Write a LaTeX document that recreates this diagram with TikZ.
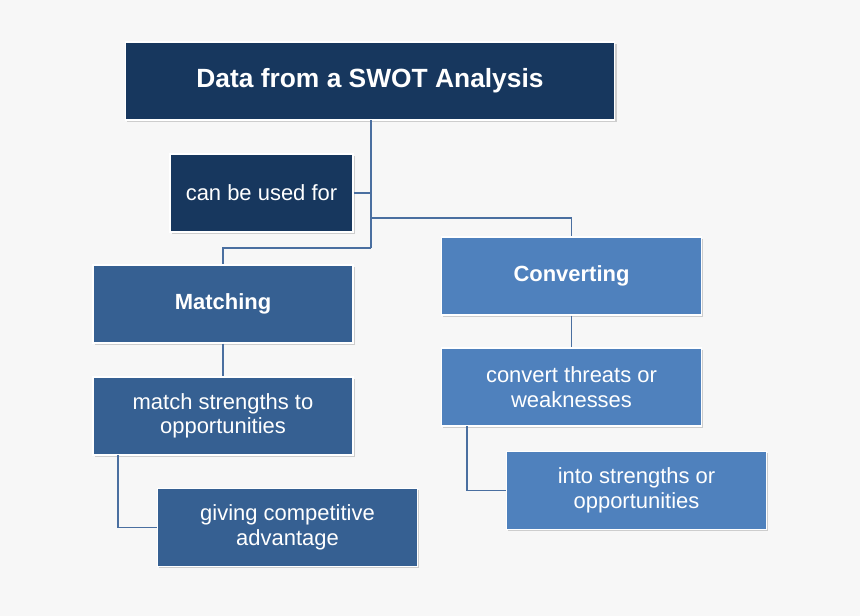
\documentclass[tikz,border=0pt]{standalone}
\usepackage{fontspec}
\setmainfont{Liberation Sans}
\usetikzlibrary{shadows}
\definecolor{navy}{HTML}{17375E}
\definecolor{midblue}{HTML}{366092}
\definecolor{lightblue}{HTML}{4F81BD}
\definecolor{linkblue}{HTML}{4A6FA0}
\definecolor{backgray}{HTML}{F7F7F7}
\tikzset{
  box/.style={draw=white, line width=0.6pt, text=white, align=center, inner sep=2pt,
    font=\fontsize{12.5}{14}\selectfont,
    drop shadow={shadow xshift=1pt, shadow yshift=-1pt, opacity=0.35}},
  link/.style={draw=linkblue, line width=0.7pt}
}
\begin{document}
\begin{tikzpicture}[x=0.02cm, y=-0.02cm]
  \fill[backgray] (0,0) rectangle (860,616);
  \useasboundingbox (0,0) rectangle (860,616);

  % Kopf
  \node[box, fill=navy, minimum width=9.8cm, minimum height=1.56cm,
    font=\fontsize{15}{18}\selectfont\bfseries] (title) at (370,81) {Data from a SWOT Analysis};
  \node[box, fill=navy, minimum width=3.66cm, minimum height=1.56cm] (used) at (261.5,193) {can be used for};

  % Matching-Zweig
  \node[box, fill=midblue, minimum width=5.2cm, minimum height=1.56cm, font=\fontsize{12.5}{14}\selectfont\bfseries] (match) at (223,304) {Matching};
  \node[box, fill=midblue, minimum width=5.2cm, minimum height=1.56cm] (strengths) at (223,416) {match strengths to\\opportunities};
  \node[box, fill=midblue, minimum width=5.2cm, minimum height=1.56cm] (advantage) at (287.5,527.5) {giving competitive\\advantage};

  % Converting-Zweig
  \node[box, fill=lightblue, minimum width=5.2cm, minimum height=1.56cm, font=\fontsize{12.5}{14}\selectfont\bfseries] (convert) at (571.5,276) {Converting};
  \node[box, fill=lightblue, minimum width=5.2cm, minimum height=1.56cm] (threats) at (571.5,387) {convert threats or\\weaknesses};
  \node[box, fill=lightblue, minimum width=5.2cm, minimum height=1.56cm] (into) at (636.5,490.5) {into strengths or\\opportunities};

  % Verbindungen
  \coordinate (trunk) at (371,248);
  \coordinate (top) at (371,120);
  \draw[link] (top) -- (trunk);
  \draw[link] (used.east) -- (371,193);
  \draw[link] (371,218) -| (convert.north);
  \draw[link] (trunk) -| (match.north);
  \draw[link] (match.south) -- (strengths.north);
  \draw[link] (118,455) |- (advantage.west);
  \draw[link] (convert.south) -- (threats.north);
  \draw[link] (467,426) |- (into.west);
\end{tikzpicture}
\end{document}
